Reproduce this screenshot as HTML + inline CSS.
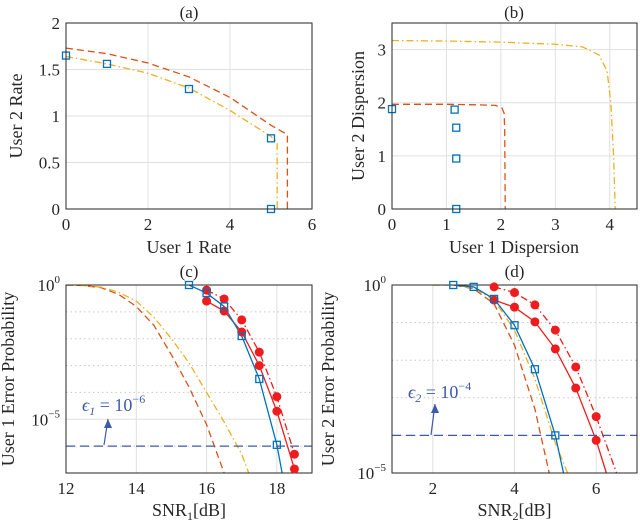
<!DOCTYPE html>
<html><head><meta charset="utf-8"><style>
body{margin:0;background:#fff}
svg{display:block;font-family:"Liberation Serif",serif}
</style></head><body>
<svg id="fig" width="640" height="523" viewBox="0 0 640 523" xmlns="http://www.w3.org/2000/svg"></svg>
<script>
// ---------- data ----------
const aBlueX=[0,1,3,5,5], aBlueY=[1.65,1.56,1.29,0.76,0];
const aRedX=[0,1,2,3,4,5,5.4,5.4], aRedY=[1.73,1.67,1.57,1.42,1.2,0.9,0.8,0];
const aYelX=[0,1,2,3,4,5,5.15,5.15], aYelY=[1.64,1.56,1.46,1.3,1.06,0.78,0.72,0];
const bBlueX=[0,1.15,1.18,1.18,1.18], bBlueY=[1.88,1.87,1.53,0.95,0];
const bRedX=[0,1,1.6,1.9,2.02,2.06,2.07,2.08], bRedY=[1.97,1.97,1.96,1.95,1.9,1.8,1.5,0];
const bYelX=[0,1,2,3,3.5,3.8,3.95,4.02,4.07,4.1], bYelY=[3.17,3.16,3.14,3.1,3.05,2.9,2.6,2.0,1.0,0];
const cBlueX=[15.5,16,16.5,17,17.5,18,18.15], cBlueY=[0,-0.3,-0.8,-1.9,-3.5,-5.95,-7];
const cRedX=[16,16.5,17,17.5,18,18.5], cRedY=[-0.6,-0.97,-1.75,-3.0,-4.7,-6.85];
const cRdX=[16,16.5,17,17.5,18,18.5], cRdY=[-0.19,-0.52,-1.3,-2.5,-4.16,-6.3];
const cOrX=[12,12.5,13,13.5,14,14.5,15,15.5,16,16.5], cOrY=[0,-0.02,-0.1,-0.35,-0.8,-1.5,-2.6,-3.8,-5.2,-7];
const cYeX=[12,12.5,13,13.5,14,14.5,15,15.5,16,16.5,17,17.2], cYeY=[0,-0.02,-0.08,-0.27,-0.6,-1.2,-2.0,-2.9,-4.0,-5.1,-6.3,-7];
const dBlueX=[2.5,3,3.5,4,4.5,5,5.2], dBlueY=[0,-0.05,-0.37,-1.07,-2.24,-4,-5];
const dRedX=[3.5,4,4.5,5,5.5,6,6.25], dRedY=[-0.4,-0.59,-0.98,-1.7,-2.74,-4.13,-5];
const dRdX=[3.5,4,4.5,5,5.5,6,6.5], dRdY=[-0.05,-0.2,-0.53,-1.2,-2.18,-3.5,-5];
const dOrX=[2,2.5,3,3.5,4,4.5,4.85], dOrY=[0,0,-0.1,-0.5,-1.6,-3.3,-5];
const dYeX=[2,2.5,3,3.5,4,4.5,5,5.3], dYeY=[0,0,-0.08,-0.4,-1.2,-2.5,-4.2,-5];
const aXT=[0,2,4,6], aYT=[0,0.5,1,1.5,2];
const bXT=[0,1,2,3,4], bYT=[0,1,2,3];
const cXT=[12,14,16,18], dXT=[2,4,6];

const NS='http://www.w3.org/2000/svg', svg=document.getElementById('fig');
function el(t,a,p){const e=document.createElementNS(NS,t);for(const k in a)e.setAttribute(k,a[k]);(p||svg).appendChild(e);return e;}
const BLUE='#0072BD',ORG='#D95319',YEL='#EDB120',RED='#EE1C1C',EPS='#3D5BAA';
const TF=17, LF=18;

function panel(name,L,R,T,B,x0,x1,y0,y1){
  const g=el('g',{});
  
  
  el('rect',{x:L,y:T,width:R-L,height:B-T,fill:'#fff'},g);
  return {g,sx:v=>L+(v-x0)/(x1-x0)*(R-L),sy:v=>B-(v-y0)/(y1-y0)*(B-T),L,R,T,B};
}
function frame(p){el('rect',{x:p.L,y:p.T,width:p.R-p.L,height:p.B-p.T,fill:'none',stroke:'#262626','stroke-width':1},p.g);}
function grid(p,xs,ys,dotted){
  xs.forEach(v=>el('line',{x1:p.sx(v),x2:p.sx(v),y1:p.T,y2:p.B,stroke:'#e0e0e0'},p.g));
  ys.forEach(v=>el('line',{x1:p.L,x2:p.R,y1:p.sy(v),y2:p.sy(v),stroke:dotted&&dotted.includes(v)?'#c8c8c8':'#e0e0e0','stroke-dasharray':dotted&&dotted.includes(v)?'1.5,3':''},p.g));
}
function xticks(p,xs){xs.forEach(v=>{const t=el('text',{x:p.sx(v),y:p.B+21,'font-size':TF,'text-anchor':'middle',fill:'#262626'},p.g);t.textContent=v;
  });}
function yticks(p,ys){ys.forEach(v=>{const t=el('text',{x:p.L-6,y:p.sy(v)+6,'font-size':TF,'text-anchor':'end',fill:'#262626'},p.g);t.textContent=v;
  });}
function line(p,xs,ys,color,dash,name){
  const pts=xs.map((x,i)=>p.sx(x)+','+p.sy(ys[i])).join(' ');
  const e=el('polyline',{points:pts,fill:'none',stroke:color,'stroke-width':1.3,'stroke-dasharray':dash||''},p.g);
  
}
function squares(p,xs,ys,name){xs.forEach((x,i)=>{const e=el('rect',{x:p.sx(x)-3.5,y:p.sy(ys[i])-3.5,width:7,height:7,fill:'none',stroke:BLUE,'stroke-width':1.3},p.g);
  });}
function dots(p,xs,ys,name){xs.forEach((x,i)=>{const e=el('circle',{cx:p.sx(x),cy:p.sy(ys[i]),r:4.5,fill:RED},p.g);
  });}
function txt(p,x,y,s,name,rot,size){const t=el('text',{x,y,'font-size':size||LF,'text-anchor':'middle',fill:'#262626',transform:rot?`rotate(-90 ${x} ${y})`:''},p.g);t.textContent=s;
  return t;}
function clip(p,id){const c=el('clipPath',{id});el('rect',{x:p.L,y:p.T,width:p.R-p.L,height:p.B-p.T},c);const g=el('g',{'clip-path':`url(#${id})`},p.g);return g;}

// (a)
let p=panel('panel-a-rate-region',66,312,23,209,0,6,0,2);
grid(p,aXT,aYT);
line(p,aRedX,aRedY,ORG,'7,4','series-red-dashed');
line(p,aYelX,aYelY,YEL,'7,3,1.5,3','series-yellow-dashdot');
squares(p,aBlueX,aBlueY,'blue-square-marker');
frame(p);xticks(p,aXT);yticks(p,aYT);
txt(p,189,18,'(a)','panel-a-title',0,17);
txt(p,189,253,'User 1 Rate','x-axis-title');
txt(p,22,116,'User 2 Rate','y-axis-title',1);

// (b)
p=panel('panel-b-dispersion',392,637,23,209,0,4.5,0,3.5);
grid(p,bXT,bYT);
line(p,bRedX,bRedY,ORG,'7,4','series-red-dashed');
line(p,bYelX,bYelY,YEL,'7,3,1.5,3','series-yellow-dashdot');
squares(p,bBlueX,bBlueY,'blue-square-marker');
frame(p);xticks(p,bXT);yticks(p,bYT);
txt(p,514,18,'(b)','panel-b-title',0,17);
txt(p,514,253,'User 1 Dispersion','x-axis-title');
txt(p,364,116,'User 2 Dispersion','y-axis-title',1);

function errPanel(name,L,R,x0,x1,ymin,xt,data,eps,title,xl,yl,ylx,epsTxt,ax,ay,dotN){
  const p=panel(name,L,R,285,473,x0,x1,ymin,0);
  const ys=[];for(let v=0;v>=ymin;v--)ys.push(v);
  const dotted=ys.filter(v=>v!==0&&v!==-5&&v!==ymin);
  grid(p,xt,ys,dotted);
  const g=clip(p,name+'-clip');
  const q=Object.assign({},p,{g});
  line(q,data.orX,data.orY,ORG,'7,4','series-red-dashed');
  line(q,data.yeX,data.yeY,YEL,'7,3,1.5,3','series-yellow-dashdot');
  line(q,data.rdX,data.rdY,RED,'7,3,1.5,3','series-red-dashdot-sim');
  line(q,data.redX,data.redY,RED,'','series-red-solid-sim');
  line(q,data.blX,data.blY,BLUE,'','series-blue-solid');
  const e=el('line',{x1:p.L,x2:p.R,y1:p.sy(eps),y2:p.sy(eps),stroke:EPS,'stroke-width':1.2,'stroke-dasharray':'9,5'},p.g);
  
  frame(p);
  dots(p,data.rdX.slice(0,dotN),data.rdY.slice(0,dotN),'red-dot-marker');
  dots(p,data.redX.slice(0,dotN),data.redY.slice(0,dotN),'red-dot-marker');
  squares(p,data.blX.slice(0,-1),data.blY.slice(0,-1),'blue-square-marker');
  xticks(p,xt);
  [0,-5].forEach(v=>{const t=el('text',{x:p.L-6,y:p.sy(v)+6,'font-size':TF,'text-anchor':'end',fill:'#262626'},p.g);
    t.innerHTML=`10<tspan dy="-8" font-size="11">${v===0?'0':'−5'}</tspan>`;
    });
  txt(p,(L+R)/2,277,title,'panel-title',0,17);
  const xt2=el('text',{x:(L+R)/2,y:516,'font-size':LF,'text-anchor':'middle',fill:'#262626'},p.g);xt2.innerHTML=xl;
  
  txt(p,ylx,379,yl,'y-axis-title',1);
  const at=el('text',{x:epsTxt[0],y:epsTxt[1],'font-size':18,fill:EPS,'font-style':'italic'},p.g);at.innerHTML=epsTxt[2];
  
  const ar=el('path',{d:`M${ax[0]},${ay[0]} L${ax[1]},${ay[1]}`,stroke:EPS,'stroke-width':1.2,fill:'none'},p.g);
  
  el('path',{d:`M${ax[1]-4},${ay[1]+9} L${ax[1]},${ay[1]} L${ax[1]+4},${ay[1]+9} Z`,fill:EPS},p.g);
}
errPanel('panel-c-user1-error',66,312,12,19,-7,cXT,
 {blX:cBlueX,blY:cBlueY,redX:cRedX,redY:cRedY,rdX:cRdX,rdY:cRdY,orX:cOrX,orY:cOrY,yeX:cYeX,yeY:cYeY},-6,
 '(c)','SNR<tspan dy="4" font-size="12">1</tspan><tspan dy="-4">[dB]</tspan>','User 1 Error Probability',14,
 [82,411,'ϵ<tspan dy="4" font-size="12">1</tspan><tspan dy="-4" font-style="normal"> = 10</tspan><tspan dy="-8" font-size="12" font-style="normal">−6</tspan>'],[104,108],[445,419],6);
errPanel('panel-d-user2-error',392,637,1,7,-5,dXT,
 {blX:dBlueX,blY:dBlueY,redX:dRedX,redY:dRedY,rdX:dRdX,rdY:dRdY,orX:dOrX,orY:dOrY,yeX:dYeX,yeY:dYeY},-4,
 '(d)','SNR<tspan dy="4" font-size="12">2</tspan><tspan dy="-4">[dB]</tspan>','User 2 Error Probability',334,
 [408,398,'ϵ<tspan dy="4" font-size="12">2</tspan><tspan dy="-4" font-style="normal"> = 10</tspan><tspan dy="-8" font-size="12" font-style="normal">−4</tspan>'],[431,435],[435,404],6);
</script>
</body></html>
